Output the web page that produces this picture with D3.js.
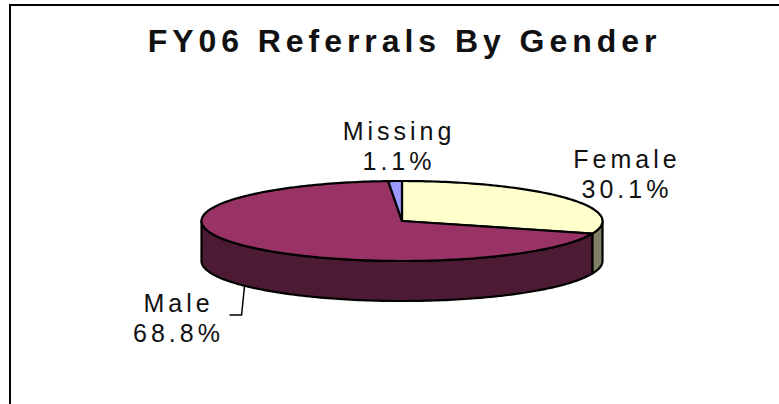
<!DOCTYPE html>
<html><head><meta charset="utf-8">
<script src="https://cdn.jsdelivr.net/npm/d3@7"></script>
<style>html,body{margin:0;padding:0;background:#fff}svg{display:block}text{font-family:"Liberation Sans",Arial,sans-serif;fill:#111}</style>
</head><body><svg id="c" width="779" height="404"></svg>
<script>
const categories = ["Female", "Male", "Missing"];
const values = [30.1, 68.8, 1.1];
const labelText = ["30.1%", "68.8%", "1.1%"];
const topColors = ["#ffffcc", "#993366", "#9999ff"];
const wallColors = ["#808066", "#4d1a33", "#4d4d80"];

const cx = 402, cy = 221, rx = 200.5, ry = 40, depth = 40;
const svg = d3.select("#c");
const line = d3.line();

svg.append("path").attr("d", line([[10, 404], [10, 5], [779, 5]]))
  .attr("fill", "none").attr("stroke", "#000").attr("stroke-width", 2);

svg.append("text").attr("x", 404.5).attr("y", 51.5).attr("text-anchor", "middle")
  .attr("font-size", 32).attr("font-weight", 700).attr("letter-spacing", 4.95)
  .text("FY06 Referrals By Gender");

const arcs = d3.pie().value(d => d).sort(null)(values);
const px = a => cx + rx * Math.sin(a);
const py = (a, dz = 0) => cy - ry * Math.cos(a) + dz;

function rim(a0, a1, dz) {
  const n = Math.max(2, Math.ceil((a1 - a0) / 0.02));
  return d3.range(n + 1).map(i => { const a = a0 + (a1 - a0) * i / n; return [px(a), py(a, dz)]; });
}
const sw = 2.2;
// side walls on the front half
arcs.forEach((d, i) => {
  const a0 = Math.max(d.startAngle, Math.PI / 2), a1 = Math.min(d.endAngle, 3 * Math.PI / 2);
  if (a1 <= a0) return;
  const pts = rim(a0, a1, 0).concat(rim(a0, a1, depth).reverse());
  svg.append("path").attr("d", line(pts) + "Z").attr("fill", wallColors[i])
    .attr("stroke", "#000").attr("stroke-width", sw).attr("stroke-linejoin", "round");
});
// top faces
arcs.forEach((d, i) => {
  const pts = [[cx, cy]].concat(rim(d.startAngle, d.endAngle, 0));
  svg.append("path").attr("d", line(pts) + "Z").attr("fill", topColors[i])
    .attr("stroke", "#000").attr("stroke-width", sw).attr("stroke-linejoin", "round");
});

// labels: centre x, first baseline, second baseline
const labelPos = [[627, 168, 198], [178.5, 311.5, 341.5], [399, 139.5, 169.5]];
categories.forEach((c, i) => {
  const [x, y1, y2] = labelPos[i];
  const t = svg.append("text").attr("text-anchor", "middle").attr("font-size", 25).attr("letter-spacing", 4);
  t.append("tspan").attr("x", x).attr("y", y1).text(c);
  t.append("tspan").attr("x", x).attr("y", y2).text(labelText[i]);
});

// Male leader line
const maleAngle = (arcs[1].startAngle + arcs[1].endAngle) / 2;
svg.append("path").attr("d", line([[px(maleAngle) + 1, py(maleAngle, depth)], [px(maleAngle) - 2, 315], [px(maleAngle) - 14, 315]]))
  .attr("fill", "none").attr("stroke", "#000").attr("stroke-width", 1.5);
</script></body></html>
